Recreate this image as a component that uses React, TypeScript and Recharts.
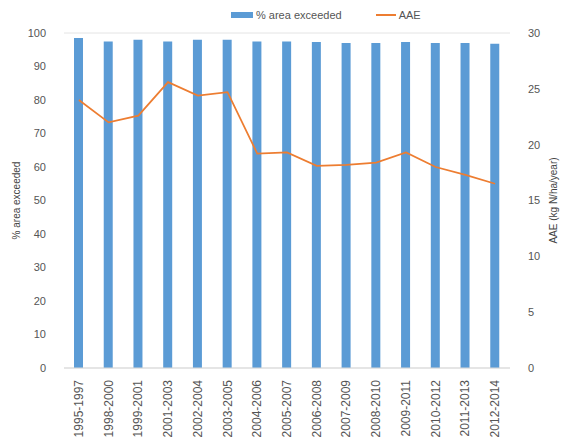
import React from "react";
import {
  ComposedChart,
  Bar,
  Line,
  XAxis,
  YAxis,
  CartesianGrid,
} from "recharts";

const periods = [
  "1995-1997",
  "1998-2000",
  "1999-2001",
  "2001-2003",
  "2002-2004",
  "2003-2005",
  "2004-2006",
  "2005-2007",
  "2006-2008",
  "2007-2009",
  "2008-2010",
  "2009-2011",
  "2010-2012",
  "2011-2013",
  "2012-2014",
];
const areaExceeded = [98.5, 97.5, 98, 97.5, 98, 98, 97.5, 97.5, 97.3, 97, 97, 97.3, 97, 97, 96.8];
const aae = [24.0, 22.0, 22.6, 25.6, 24.4, 24.7, 19.2, 19.3, 18.1, 18.2, 18.4, 19.3, 18.0, 17.3, 16.5];
const leftTicks = [0, 10, 20, 30, 40, 50, 60, 70, 80, 90, 100];
const rightTicks = [0, 5, 10, 15, 20, 25, 30];

const data = periods.map((p, i) => ({ period: p, area: areaExceeded[i], aae: aae[i] }));

const BLUE = "#5B9BD5";
const ORANGE = "#ED7D31";
const FONT = "'Liberation Sans', Arial, sans-serif";

const XTick = (props: any) => {
  const { x, y, payload } = props;
  return (
    <g transform={`translate(${x},${y})`}>
      <text
        x={0}
        y={0}
        dy={4}
        textAnchor="end"
        transform="rotate(-90)"
        fontSize={12}
        fill="#555"
        fontFamily={FONT}
      >
        {payload.value}
      </text>
    </g>
  );
};

export default function App() {
  return (
    <div style={{ position: "absolute", left: 0, top: 0, width: 561, height: 445, background: "#fff", fontFamily: FONT }}>
      <ComposedChart
        width={561}
        height={445}
        data={data}
        margin={{ top: 33, right: 0, left: 0, bottom: 0 }}
      >
        <CartesianGrid vertical={false} stroke="#e4e4e4" />
        <XAxis
          dataKey="period"
          interval={0}
          height={77}
          tick={<XTick />}
          tickLine={false}
          axisLine={{ stroke: "#d9d9d9" }}
          tickMargin={6}
        />
        <YAxis
          yAxisId="left"
          domain={[0, 100]}
          ticks={leftTicks}
          width={64}
          axisLine={false}
          tickLine={false}
          tickMargin={12}
          tick={{ fontSize: 11, fill: "#555", fontFamily: FONT }}
          label={{
            value: "% area exceeded",
            angle: -90,
            position: "insideLeft",
            offset: 16,
            style: { fontSize: 10, fill: "#444", textAnchor: "middle", fontFamily: FONT },
          }}
        />
        <YAxis
          yAxisId="right"
          orientation="right"
          domain={[0, 30]}
          ticks={rightTicks}
          width={51}
          axisLine={false}
          tickLine={false}
          tickMargin={12}
          tick={{ fontSize: 11, fill: "#555", fontFamily: FONT }}
          label={{
            value: "AAE (kg N/ha/year)",
            angle: -90,
            position: "insideRight",
            offset: 8,
            style: { fontSize: 10, fill: "#444", textAnchor: "middle", fontFamily: FONT },
          }}
        />
        <Bar yAxisId="left" dataKey="area" fill={BLUE} barSize={9} isAnimationActive={false} />
        <Line
          yAxisId="right"
          type="linear"
          dataKey="aae"
          stroke={ORANGE}
          strokeWidth={1.75}
          dot={false}
          isAnimationActive={false}
        />
      </ComposedChart>
      <div style={{ position: "absolute", top: 9, left: 231, display: "flex", alignItems: "center", fontSize: 11, color: "#555" }}>
        <span style={{ display: "inline-block", width: 22, height: 6, background: BLUE, marginRight: 3 }} />
        <span>% area exceeded</span>
        <span style={{ display: "inline-block", width: 20, height: 2, background: ORANGE, marginLeft: 34, marginRight: 3 }} />
        <span>AAE</span>
      </div>
    </div>
  );
}
